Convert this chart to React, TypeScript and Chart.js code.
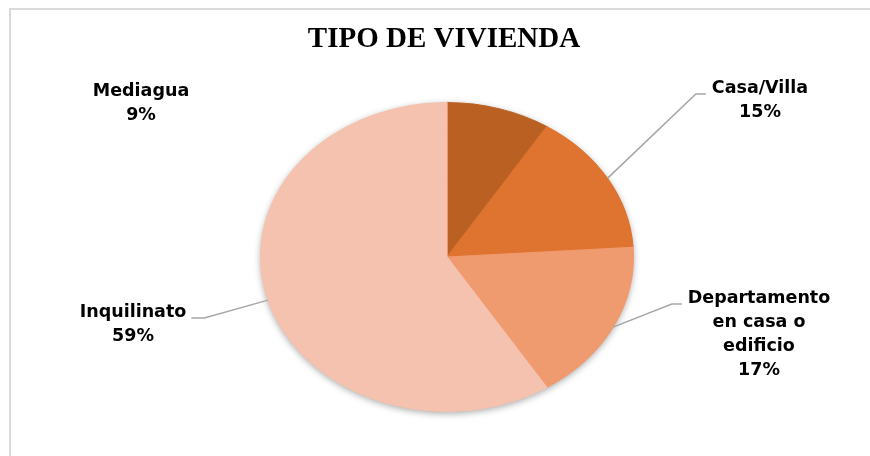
import React, { useEffect, useRef } from "react";
import { Chart, registerables } from "chart.js";

Chart.register(...registerables);

// ---- data ----
const title = "TIPO DE VIVIENDA";
const categories = ["Mediagua", "Casa/Villa", "Departamento en casa o edificio", "Inquilinato"];
const values = [9, 15, 17, 59];
const colors = ["#BA6023", "#DE7430", "#F09A6F", "#F4C2AF"];
const labelLines = [["Mediagua"], ["Casa/Villa"], ["Departamento", "en casa o", "edificio"], ["Inquilinato"]];

// ---- layout / style (not data) ----
const W = 870;
const H = 456;
const SX = 187 / 155; // horizontal stretch of the pie (ellipse)
const LABEL_LAYOUT = [
  { x: 141, y: 91, leader: false, side: "none" },
  { x: 760, y: 88, leader: true, side: "left" },
  { x: 759, y: 298, leader: true, side: "left" },
  { x: 133, y: 312, leader: true, side: "right" },
];
const LABEL_FONT = "bold 17.5px 'DejaVu Sans'";
const LINE_H = 24;

const framePlugin = {
  id: "frameTitle",
  beforeDraw(chart: any) {
    const ctx = chart.ctx;
    ctx.save();
    ctx.fillStyle = "#ffffff";
    ctx.fillRect(0, 0, W, H);
    ctx.strokeStyle = "#D9D9D9";
    ctx.lineWidth = 2;
    ctx.beginPath();
    ctx.moveTo(10, H);
    ctx.lineTo(10, 9);
    ctx.lineTo(W, 9);
    ctx.stroke();
    ctx.fillStyle = "#000000";
    ctx.font = "bold 29px 'Liberation Serif'";
    ctx.textAlign = "center";
    ctx.textBaseline = "alphabetic";
    ctx.fillText(title, 444, 47);
    ctx.restore();
  },
};

const ellipsePlugin = {
  id: "ellipsePie",
  beforeDatasetsDraw(chart: any) {
    const ctx = chart.ctx;
    const arc = chart.getDatasetMeta(0).data[0];
    const { x, y, outerRadius } = arc.getProps(["x", "y", "outerRadius"], true);
    ctx.save();
    ctx.translate(x, y);
    ctx.scale(SX, 1);
    ctx.beginPath();
    ctx.arc(0, 0, outerRadius, 0, Math.PI * 2);
    ctx.shadowColor = "rgba(0,0,0,0.35)";
    ctx.shadowBlur = 7;
    ctx.shadowOffsetY = 2;
    ctx.fillStyle = colors[3];
    ctx.fill();
    ctx.restore();
    ctx.save();
    ctx.translate(x, y);
    ctx.scale(SX, 1);
    ctx.translate(-x, -y);
  },
  afterDatasetsDraw(chart: any) {
    chart.ctx.restore();
  },
};

const labelPlugin = {
  id: "pieLabels",
  afterDraw(chart: any) {
    const ctx = chart.ctx;
    const meta = chart.getDatasetMeta(0);
    const total = values.reduce((a, b) => a + b, 0);
    ctx.save();
    ctx.font = LABEL_FONT;
    ctx.fillStyle = "#000000";
    ctx.textAlign = "center";
    ctx.textBaseline = "middle";
    meta.data.forEach((arc: any, i: number) => {
      const p = arc.getProps(["x", "y", "startAngle", "endAngle", "outerRadius"], true);
      const lay = LABEL_LAYOUT[i];
      const lines = [...labelLines[i], `${Math.round((values[i] / total) * 100)}%`];
      lines.forEach((t, k) => ctx.fillText(t, lay.x, lay.y + k * LINE_H));
      if (lay.leader) {
        const mid = (p.startAngle + p.endAngle) / 2;
        const ax = p.x + p.outerRadius * SX * Math.cos(mid);
        const ay = p.y + p.outerRadius * Math.sin(mid);
        const w = ctx.measureText(lines[0]).width;
        const ly = lay.y + 6;
        let endX: number, elbowX: number;
        if (lay.side === "left") {
          endX = lay.x - w / 2 - 6;
          elbowX = endX - 10;
        } else {
          endX = lay.x + w / 2 + 5;
          elbowX = endX + 13;
        }
        ctx.save();
        ctx.strokeStyle = "#A6A6A6";
        ctx.lineWidth = 1.5;
        ctx.beginPath();
        ctx.moveTo(ax, ay);
        ctx.lineTo(elbowX, ly);
        ctx.lineTo(endX, ly);
        ctx.stroke();
        ctx.restore();
      }
    });
    ctx.restore();
  },
};

export default function App() {
  const ref = useRef<HTMLCanvasElement | null>(null);
  useEffect(() => {
    if (!ref.current) return;
    const chart = new Chart(ref.current, {
      type: "pie",
      data: {
        labels: categories,
        datasets: [
          {
            data: values,
            backgroundColor: colors,
            borderColor: colors,
            borderWidth: 1,
            clip: false,
          } as any,
        ],
      },
      options: {
        animation: false,
        responsive: false,
        devicePixelRatio: 1,
        events: [],
        layout: { padding: { left: 292, right: 268, top: 102, bottom: 44 } },
        plugins: {
          legend: { display: false },
          tooltip: { enabled: false },
          title: { display: false },
        },
      },
      plugins: [framePlugin, ellipsePlugin, labelPlugin],
    });
    return () => chart.destroy();
  }, []);
  return (
    <div style={{ position: "fixed", left: 0, top: 0, width: W, height: H, background: "#fff" }}>
      <canvas ref={ref} width={W} height={H} style={{ width: W, height: H, display: "block" }} />
    </div>
  );
}
